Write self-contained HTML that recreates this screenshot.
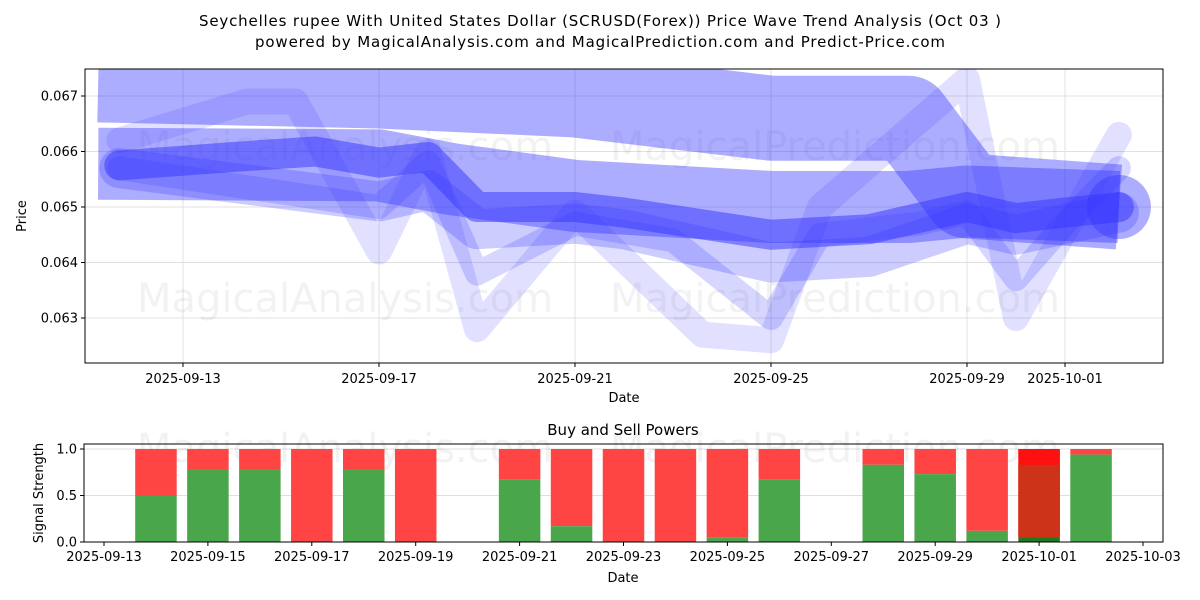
<!DOCTYPE html>
<html><head><meta charset="utf-8"><style>
body{margin:0;background:#fff;}
svg{display:block;font-family:"DejaVu Sans","Liberation Sans",sans-serif;}
</style></head><body>
<svg id="c" width="1200" height="600" viewBox="0 0 1200 600">
<text x="600" y="26" text-anchor="middle" font-size="15" textLength="802">Seychelles rupee With United States Dollar (SCRUSD(Forex)) Price Wave Trend Analysis (Oct 03 )</text>
<text x="600" y="47" text-anchor="middle" font-size="15" textLength="690">powered by MagicalAnalysis.com and MagicalPrediction.com and Predict-Price.com</text>
<g id="topchart"></g>
<g id="botchart"></g>
</svg>
<script>
// ---- top chart data (days from 2025-09-13) ----
const bandAx=[-1.73,4,8,12,14.8,16,19.1];
const bandAy=[0.06729,0.06718,0.06702,0.0666,0.0666,0.0652,0.0650];
const bandBx=[-1.73,4,5.5,8,12,14.8,16,19.1];
const bandBy=[0.06578,0.06575,0.0655,0.0652,0.0650,0.0650,0.0651,0.0650];
const bandCx=[-1.3,1,2.7,4,5,6,8,9,12,14,16,17,18,19.1];
const bandCy=[0.06575,0.0659,0.0660,0.0658,0.0659,0.0650,0.0650,0.0649,0.0645,0.0646,0.0650,0.0648,0.0649,0.0650];
const bandDx=[-1.3,1.3,2.3,4,5,6,8,10.6,12,13,16,17,19.1];
const bandDy=[0.0662,0.0669,0.0669,0.0642,0.0660,0.0628,0.0649,0.0627,0.0626,0.0650,0.0673,0.0630,0.0663];
const bandEx=[-1.3,4,5,6,8,10,12,13,15,16,17,18,19.1];
const bandEy=[0.0657,0.0650,0.0658,0.0638,0.0647,0.0644,0.0630,0.0645,0.0647,0.0649,0.0637,0.0647,0.0657];
const bandFx=[-1.3,4,5,6,8,9,12,14,16,17,19.1];
const bandFy=[0.0657,0.0651,0.0653,0.0646,0.0647,0.0646,0.0640,0.0641,0.0647,0.0645,0.0649];
const endDay=19.1, endPrice=0.0650;
const topTickDays=[0,4,8,12,16,18];
const topTickLabels=["2025-09-13","2025-09-17","2025-09-21","2025-09-25","2025-09-29","2025-10-01"];
const yTicks=[0.063,0.064,0.065,0.066,0.067];
// ---- bottom chart data (days from 2025-09-13) ----
const barDays=[1,2,3,4,5,6,8,9,10,11,12,13,15,16,17,18,19];
const buyVals=[0.5,0.78,0.78,0,0.78,0,0.67,0.17,0,0,0.05,0.67,0.83,0.73,0.12,0.05,0.94];
const botTickDays=[0,2,4,6,8,10,12,14,16,18,20];
const botTickLabels=["2025-09-13","2025-09-15","2025-09-17","2025-09-19","2025-09-21","2025-09-23","2025-09-25","2025-09-27","2025-09-29","2025-10-01","2025-10-03"];
const botYTicks=[0,0.5,1.0];

const NS="http://www.w3.org/2000/svg";
function mk(p,t,a){const e=document.createElementNS(NS,t);for(const k in a)e.setAttribute(k,a[k]);p.appendChild(e);return e;}
const X=d=>183+d*49, Y=v=>207-(v-0.065)*55500;
const topG=document.getElementById('topchart');
const clip=mk(topG,'clipPath',{id:'cp'});mk(clip,'rect',{x:85,y:69,width:1078,height:294});
const tx0=mk(topG,'rect',{x:85,y:69,width:1078,height:294,fill:'#fff'});


topTickDays.forEach((d,i)=>{
 const l=mk(topG,'line',{x1:X(d),x2:X(d),y1:69,y2:363,stroke:'#e0e0e0'});
 
 
 mk(topG,'line',{x1:X(d),x2:X(d),y1:363,y2:367,stroke:'#000'});
 const t=mk(topG,'text',{x:X(d),y:383,'font-size':13,'text-anchor':'middle'});t.textContent=topTickLabels[i];
 
 
});
yTicks.forEach(v=>{
 const l=mk(topG,'line',{x1:85,x2:1163,y1:Y(v),y2:Y(v),stroke:'#e0e0e0'});
 
 
 mk(topG,'line',{x1:81,x2:85,y1:Y(v),y2:Y(v),stroke:'#000'});
 const t=mk(topG,'text',{x:78,y:Y(v)+4.5,'font-size':13,'text-anchor':'end'});t.textContent=v.toFixed(3);
 
 
});
const wm=[[345,160,'MagicalAnalysis.com'],[835,160,'MagicalPrediction.com'],[345,312,'MagicalAnalysis.com'],[835,312,'MagicalPrediction.com']];
wm.forEach(w=>{const t=mk(topG,'text',{x:w[0],y:w[1],'font-size':40,'text-anchor':'middle',fill:'#000','fill-opacity':0.05});t.textContent=w[2];
 
 });
const g=mk(topG,'g',{'clip-path':'url(#cp)'});
function band(xs,ys,w,op,cap,name){
 const pts=xs.map((d,i)=>X(d)+','+Y(ys[i])).join(' ');
 const p=mk(g,'polyline',{points:pts,fill:'none',stroke:'#3333ff','stroke-width':w,'stroke-opacity':op,'stroke-linecap':cap,'stroke-linejoin':'round'});
 
 
}
band(bandAx,bandAy,85,0.4,'butt','wave-band-upper');
band(bandBx,bandBy,72,0.4,'butt','wave-band-middle');
band(bandDx,bandDy,26,0.15,'round','wave-band-spiky');
band(bandEx,bandEy,24,0.2,'round','wave-band-lower');
band(bandFx,bandFy,40,0.25,'round','wave-band-bottom');
band(bandCx,bandCy,30,0.5,'round','wave-band-core');
const ec=mk(g,'circle',{cx:X(endDay),cy:Y(endPrice),r:32,fill:'#3333ff','fill-opacity':0.4});


mk(topG,'rect',{x:85,y:69,width:1078,height:294,fill:'none',stroke:'#000'});
let tl=mk(topG,'text',{x:624,y:402,'font-size':13,'text-anchor':'middle'});tl.textContent='Date';


tl=mk(topG,'text',{x:0,y:0,'font-size':13,'text-anchor':'middle',transform:'translate(26,216) rotate(-90)'});tl.textContent='Price';



// bottom
const botG=document.getElementById('botchart');
const BX=d=>104+d*51.95, BY=v=>542-v*93;
tl=mk(botG,'text',{x:623,y:435,'font-size':15,'text-anchor':'middle'});tl.textContent='Buy and Sell Powers';


botYTicks.forEach(v=>{
 const l=mk(botG,'line',{x1:84,x2:1163,y1:BY(v),y2:BY(v),stroke:'#e0e0e0'});
 
 
 mk(botG,'line',{x1:80,x2:84,y1:BY(v),y2:BY(v),stroke:'#000'});
 const tt=mk(botG,'text',{x:77,y:BY(v)+4.5,'font-size':13,'text-anchor':'end'});tt.textContent=v.toFixed(1);
 
 
});
const wb=[[345,462,'MagicalAnalysis.com'],[835,462,'MagicalPrediction.com']];
wb.forEach(w=>{const tt=mk(botG,'text',{x:w[0],y:w[1],'font-size':40,'text-anchor':'middle',fill:'#000','fill-opacity':0.05});tt.textContent=w[2];
 
 });
barDays.forEach((d,i)=>{
 const w=41.5, x=BX(d)-w/2, b=buyVals[i];
 const r=mk(botG,'rect',{x:x,y:BY(1),width:w,height:BY(b)-BY(1),fill:'#ff4444'});
 
 
 const gr=mk(botG,'rect',{x:x,y:BY(b),width:w,height:BY(0)-BY(b),fill:'#4aa64a'});
 
 
 if(d===18){
  const o=mk(botG,'rect',{x:x,y:BY(1),width:w,height:BY(b)-BY(1),fill:'#ff1010'});
  
  
  const o2=mk(botG,'rect',{x:x,y:BY(0.83),width:w,height:BY(b)-BY(0.83),fill:'#cc3318'});
  
  
  gr.setAttribute('fill','#1e7a1e');
 }
});
botTickDays.forEach((d,i)=>{
 mk(botG,'line',{x1:BX(d),x2:BX(d),y1:542,y2:546,stroke:'#000'});
 const tt=mk(botG,'text',{x:BX(d),y:561,'font-size':13,'text-anchor':'middle'});tt.textContent=botTickLabels[i];
 
 
});
mk(botG,'rect',{x:84,y:444,width:1079,height:98,fill:'none',stroke:'#000'});
tl=mk(botG,'text',{x:623,y:582,'font-size':13,'text-anchor':'middle'});tl.textContent='Date';


tl=mk(botG,'text',{x:0,y:0,'font-size':13,'text-anchor':'middle',transform:'translate(43,493) rotate(-90)'});tl.textContent='Signal Strength';


</script>
</body></html>
